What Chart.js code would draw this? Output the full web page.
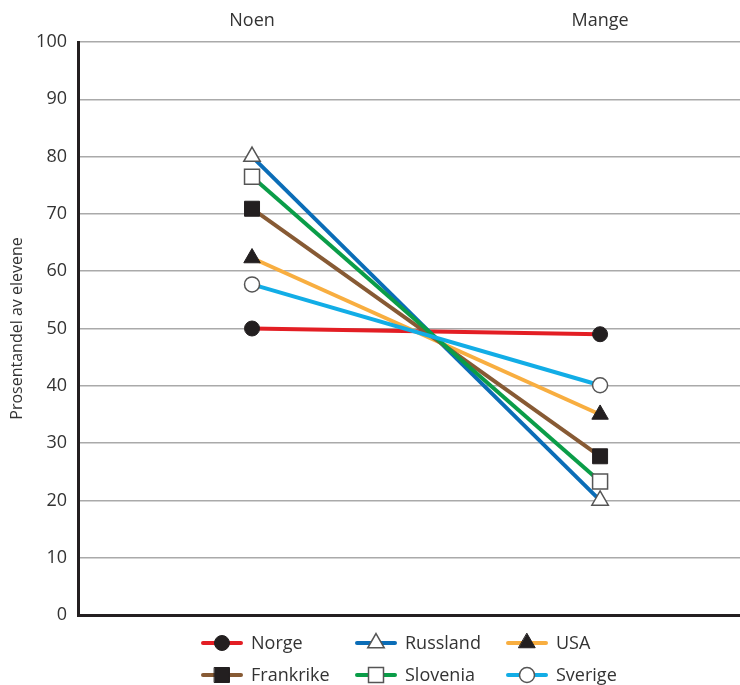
<!DOCTYPE html>
<html>
<head>
<meta charset="utf-8">
<script src="https://cdn.jsdelivr.net/npm/chart.js@4/dist/chart.umd.min.js"></script>
<style>
  html, body { margin: 0; padding: 0; background: #ffffff; }
  #wrap { width: 740px; height: 685px; }
</style>
</head>
<body>
<div id="wrap"><canvas id="c" width="740" height="685"></canvas></div>
<script>
// ---- Data ----
const categories = ['Noen', 'Mange'];
const countries = ['Norge', 'Russland', 'USA', 'Frankrike', 'Slovenia', 'Sverige'];
const noenValues = [50, 80, 62.3, 70.9, 76.5, 57.7];
const mangeValues = [49, 20, 35, 27.7, 23.3, 40.1];
const yTicks = [0, 10, 20, 30, 40, 50, 60, 70, 80, 90, 100];
const yTitle = 'Prosentandel av elevene';

// ---- Styles ----
const lineColors = ['#e31e24', '#0b6db7', '#f8ae40', '#875a34', '#0a9d48', '#12ade6'];
const markerStyles = ['circle', 'triangle', 'triangle', 'rect', 'rect', 'circle'];
const markerFilled = [true, false, true, true, false, false];
const markerRadius = { circle: 7.5, triangle: 9.5, rect: 10.6 };
const DARK = '#231f20';
const TEXT = '#333333';
const FONT = "'Open Sans', 'DejaVu Sans', sans-serif";

const datasets = countries.map((name, i) => {
  const st = markerStyles[i];
  return {
    label: name,
    data: [noenValues[i], mangeValues[i]].map((v, k) => ({ x: k, y: v })),
    borderColor: lineColors[i],
    backgroundColor: lineColors[i],
    borderWidth: 4,
    pointStyle: st,
    pointRadius: markerRadius[st],
    pointHoverRadius: markerRadius[st],
    pointBackgroundColor: markerFilled[i] ? DARK : '#ffffff',
    pointBorderColor: markerFilled[i] ? DARK : '#555555',
    pointBorderWidth: markerFilled[i] ? 1 : 1.5,
    tension: 0,
    fill: false,
    clip: false,
    order: countries.length - i
  };
});

function drawMarker(ctx, style, x, y, r) {
  ctx.beginPath();
  if (style === 'circle') {
    ctx.arc(x, y, r, 0, Math.PI * 2);
  } else if (style === 'rect') {
    const s = r * Math.SQRT1_2;
    ctx.rect(x - s, y - s, 2 * s, 2 * s);
  } else if (style === 'triangle') {
    ctx.moveTo(x, y - r);
    ctx.lineTo(x + r * Math.cos(Math.PI / 6), y + r / 2);
    ctx.lineTo(x - r * Math.cos(Math.PI / 6), y + r / 2);
  }
  ctx.closePath();
  ctx.fill();
  ctx.stroke();
}

const legendPlugin = {
  id: 'customLegend',
  afterDraw(chart) {
    const ctx = chart.ctx;
    const colX = [201, 355, 506];
    const rowY = [643, 675];
    chart.data.datasets.forEach((ds, i) => {
      const x0 = colX[i % 3];
      const y = rowY[Math.floor(i / 3)];
      ctx.save();
      ctx.strokeStyle = ds.borderColor;
      ctx.lineWidth = 4;
      ctx.lineCap = 'round';
      ctx.beginPath();
      ctx.moveTo(x0 + 2, y);
      ctx.lineTo(x0 + 40, y);
      ctx.stroke();
      ctx.fillStyle = ds.pointBackgroundColor;
      ctx.strokeStyle = ds.pointBorderColor;
      ctx.lineWidth = ds.pointBorderWidth;
      drawMarker(ctx, ds.pointStyle, x0 + 21, y, ds.pointRadius);
      ctx.fillStyle = TEXT;
      ctx.font = '18px ' + FONT;
      ctx.textAlign = 'left';
      ctx.textBaseline = 'middle';
      ctx.fillText(ds.label, x0 + 50, y + 1);
      ctx.restore();
    });
  }
};

new Chart(document.getElementById('c'), {
  type: 'line',
  data: { datasets },
  options: {
    responsive: false,
    devicePixelRatio: 1,
    animation: false,
    events: [],
    layout: { autoPadding: false, padding: { top: 0, right: 0, bottom: 70, left: 0 } },
    plugins: { legend: { display: false }, tooltip: { enabled: false } },
    scales: {
      x: {
        type: 'linear',
        position: 'top',
        min: -0.5,
        max: 1.402,
        afterBuildTicks: (s) => { s.ticks = categories.map((c, i) => ({ value: i })); },
        afterFit: (s) => { s.height = 42; s.paddingLeft = 0; s.paddingRight = 0; },
        grid: { display: false },
        border: { display: false },
        ticks: {
          padding: 2,
          color: TEXT,
          font: { family: FONT, size: 18 },
          callback: (v) => categories[v] !== undefined ? categories[v] : ''
        }
      },
      y: {
        min: 0,
        max: 100,
        afterBuildTicks: (s) => { s.ticks = yTicks.map(v => ({ value: v })); },
        afterFit: (s) => { s.width = 78; },
        grid: {
          drawTicks: false,
          color: (c) => (c.tick && c.tick.value === 0) ? DARK : '#aaaaaa',
          lineWidth: (c) => (c.tick && c.tick.value === 0) ? 3 : 1.5
        },
        border: { display: true, color: DARK, width: 3 },
        ticks: {
          padding: 11,
          color: TEXT,
          font: { family: FONT, size: 18 }
        },
        title: {
          display: true,
          text: yTitle,
          color: TEXT,
          font: { family: FONT, size: 16 },
          padding: { top: 8, bottom: 0 }
        }
      }
    }
  },
  plugins: [legendPlugin]
});
</script>
</body>
</html>
